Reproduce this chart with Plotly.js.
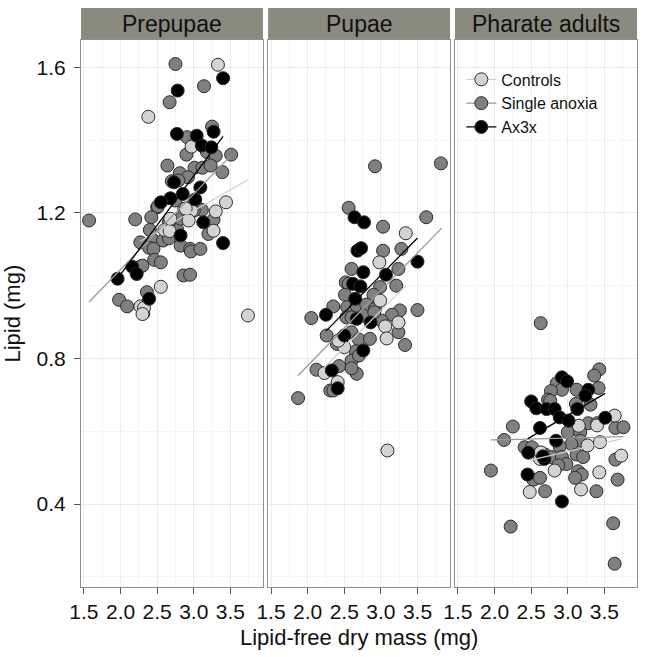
<!DOCTYPE html>
<html>
<head>
<meta charset="utf-8">
<script src="https://cdn.plot.ly/plotly-3.0.1.min.js"></script>
<style>html,body{margin:0;padding:0;background:#fff;}#chart{width:656px;height:657px;}</style>
</head>
<body>
<div id="chart"></div>
<script>
// ---- categories ----
const panelNames = ['Prepupae', 'Pupae', 'Pharate adults'];
const groupNames = ['Controls', 'Single anoxia', 'Ax3x'];

// ---- Prepupae ----
const prepupaeControlsX = [3.33, 2.38, 2.97, 2.87, 2.97, 3.30, 3.44, 2.93, 2.60, 2.67, 2.68, 3.27, 2.55, 2.27, 2.32, 2.30, 3.74, 2.89];
const prepupaeControlsY = [1.607, 1.464, 1.382, 1.211, 1.206, 1.204, 1.229, 1.179, 1.153, 1.150, 1.184, 1.151, 0.997, 0.943, 0.939, 0.922, 0.918, 1.212];
const prepupaeSingleX = [2.75, 3.14, 2.67, 3.25, 2.91, 3.18, 3.30, 2.90, 3.51, 2.64, 3.01, 3.12, 3.23, 3.39, 2.81, 2.92, 2.70, 2.79, 2.50, 2.51, 2.75, 2.96, 3.07, 3.11, 2.20, 1.57, 2.42, 2.40, 2.77, 2.66, 2.82, 3.00, 3.27, 3.20, 2.80, 2.27, 2.45, 2.58, 2.66, 2.39, 2.45, 2.82, 2.95, 2.96, 3.09, 2.46, 2.55, 2.27, 2.30, 2.86, 2.95, 2.36, 1.98, 2.09, 2.31];
const prepupaeSingleY = [1.609, 1.548, 1.504, 1.437, 1.408, 1.367, 1.357, 1.360, 1.360, 1.330, 1.324, 1.324, 1.330, 1.312, 1.309, 1.298, 1.287, 1.289, 1.215, 1.218, 1.234, 1.218, 1.211, 1.208, 1.182, 1.179, 1.188, 1.153, 1.156, 1.174, 1.184, 1.206, 1.181, 1.142, 1.135, 1.119, 1.124, 1.124, 1.130, 1.104, 1.101, 1.110, 1.101, 1.094, 1.101, 1.071, 1.064, 1.052, 1.055, 1.028, 1.030, 0.982, 0.961, 0.943, 0.924];
const prepupaeAx3xX = [3.40, 2.78, 2.77, 3.27, 3.04, 3.11, 3.24, 2.73, 2.85, 3.09, 2.68, 2.55, 3.02, 3.13, 2.82, 3.40, 2.16, 2.22, 1.96, 2.39];
const prepupaeAx3xY = [1.570, 1.536, 1.417, 1.423, 1.412, 1.385, 1.380, 1.284, 1.252, 1.270, 1.240, 1.229, 1.237, 1.174, 1.138, 1.117, 1.052, 1.032, 1.019, 0.964];

// ---- Pupae ----
const pupaeControlsX = [3.34, 2.98, 3.06, 3.24, 3.08, 2.50, 2.23, 2.41, 3.09, 2.99, 2.42];
const pupaeControlsY = [1.144, 1.064, 0.888, 0.899, 0.855, 0.831, 0.760, 0.735, 0.547, 0.959, 0.849];
const pupaeSingleX = [2.92, 3.82, 2.56, 3.03, 3.62, 3.03, 3.28, 2.60, 3.24, 2.52, 2.56, 2.99, 2.51, 2.90, 3.21, 2.35, 2.05, 3.50, 3.26, 3.15, 2.54, 2.67, 2.80, 2.92, 3.01, 2.53, 2.60, 2.76, 2.91, 2.26, 2.40, 2.60, 2.70, 2.85, 3.24, 3.33, 2.66, 2.60, 2.67, 2.12, 2.43, 2.60, 2.31, 2.35, 1.87, 2.70, 2.46];
const pupaeSingleY = [1.328, 1.336, 1.214, 1.162, 1.188, 1.096, 1.101, 1.046, 1.046, 1.009, 1.005, 0.996, 0.975, 0.975, 1.000, 0.943, 0.911, 0.933, 0.932, 0.920, 0.941, 0.945, 0.948, 0.936, 0.904, 0.913, 0.913, 0.918, 0.927, 0.863, 0.840, 0.872, 0.852, 0.854, 0.872, 0.837, 0.820, 0.794, 0.758, 0.769, 0.779, 0.773, 0.712, 0.712, 0.691, 0.808, 0.854];
const pupaeAx3xX = [2.64, 2.77, 2.68, 2.73, 3.50, 2.76, 3.07, 2.62, 2.72, 2.65, 2.25, 2.67, 2.86, 2.50, 2.76, 2.33, 2.41];
const pupaeAx3xY = [1.188, 1.174, 1.096, 1.103, 1.066, 1.037, 1.030, 1.005, 0.998, 0.964, 0.920, 0.909, 0.899, 0.863, 0.822, 0.767, 0.718];

// ---- Pharate adults ----
const pharateControlsX = [3.64, 3.15, 3.40, 3.27, 3.44, 2.62, 2.63, 3.73, 2.82, 3.43, 2.48, 3.18];
const pharateControlsY = [0.643, 0.615, 0.616, 0.561, 0.570, 0.524, 0.542, 0.533, 0.492, 0.487, 0.433, 0.440];
const pharateSingleX = [2.63, 3.43, 3.36, 2.85, 2.92, 2.77, 3.12, 3.42, 2.73, 3.11, 3.31, 3.28, 3.65, 3.76, 2.25, 3.00, 3.17, 2.13, 3.17, 3.05, 2.41, 2.51, 2.89, 2.69, 2.78, 3.12, 3.21, 3.65, 2.92, 2.98, 2.87, 1.95, 3.14, 3.19, 3.10, 3.68, 2.53, 2.62, 2.69, 3.39, 2.22, 3.62, 3.64, 2.76, 3.40];
const pharateSingleY = [0.897, 0.770, 0.753, 0.732, 0.714, 0.710, 0.714, 0.719, 0.687, 0.675, 0.673, 0.622, 0.609, 0.611, 0.613, 0.597, 0.597, 0.576, 0.574, 0.565, 0.556, 0.556, 0.558, 0.536, 0.529, 0.536, 0.529, 0.522, 0.529, 0.510, 0.506, 0.492, 0.490, 0.481, 0.472, 0.467, 0.467, 0.472, 0.435, 0.435, 0.338, 0.347, 0.236, 0.684, 0.622];
const pharateAx3xX = [2.92, 2.99, 3.28, 3.24, 2.50, 2.57, 2.71, 2.82, 3.13, 2.89, 3.01, 3.51, 2.62, 2.84, 2.46, 2.68, 2.45, 2.92, 2.66];
const pharateAx3xY = [0.748, 0.737, 0.714, 0.698, 0.682, 0.663, 0.661, 0.661, 0.661, 0.638, 0.629, 0.637, 0.609, 0.574, 0.541, 0.524, 0.481, 0.407, 0.531];

// ---- fitted line end points (per panel: Prepupae, Pupae, Pharate adults) ----
const fitControlsX = [[2.27, 3.74], [2.23, 3.34], [2.48, 3.73]];
const fitControlsY = [[1.122, 1.291], [0.776, 1.000], [0.520, 0.579]];
const fitSingleX = [[1.57, 3.50], [1.87, 3.83], [1.95, 3.76]];
const fitSingleY = [[0.955, 1.356], [0.753, 1.158], [0.576, 0.585]];
const fitAx3xX = [[1.96, 3.40], [2.25, 3.50], [2.45, 3.51]];
const fitAx3xY = [[1.020, 1.410], [0.875, 1.131], [0.579, 0.704]];

// ---- tick labels ----
const xTickVals = [1.5, 2.0, 2.5, 3.0, 3.5];
const xTickText = ['1.5', '2.0', '2.5', '3.0', '3.5'];
const yTickVals = [0.4, 0.8, 1.2, 1.6];
const yTickText = ['0.4', '0.8', '1.2', '1.6'];

// ---- styling ----
const FONT = '"Liberation Sans", Arial, Helvetica, sans-serif';
const fillColors = {'Controls': '#d3d3d3', 'Single anoxia': '#808080', 'Ax3x': '#000000'};
const lineColors = {'Controls': '#cfcfcf', 'Single anoxia': '#9a9a9a', 'Ax3x': '#000000'};
const outline = '#2b2b2b';
const MS = 13;

const pointSets = [
  {Controls: [prepupaeControlsX, prepupaeControlsY], 'Single anoxia': [prepupaeSingleX, prepupaeSingleY], Ax3x: [prepupaeAx3xX, prepupaeAx3xY]},
  {Controls: [pupaeControlsX, pupaeControlsY], 'Single anoxia': [pupaeSingleX, pupaeSingleY], Ax3x: [pupaeAx3xX, pupaeAx3xY]},
  {Controls: [pharateControlsX, pharateControlsY], 'Single anoxia': [pharateSingleX, pharateSingleY], Ax3x: [pharateAx3xX, pharateAx3xY]}
];
const fitSets = {
  'Controls': [fitControlsX, fitControlsY],
  'Single anoxia': [fitSingleX, fitSingleY],
  'Ax3x': [fitAx3xX, fitAx3xY]
};
const axX = ['x', 'x2', 'x3'];
const axY = ['y', 'y2', 'y3'];

const traces = [];
const drawOrder = ['Single anoxia', 'Controls', 'Ax3x'];
for (let p = 0; p < 3; p++) {
  drawOrder.forEach(g => {
    const [xs, ys] = pointSets[p][g];
    traces.push({
      type: 'scatter', mode: 'markers', x: xs, y: ys,
      xaxis: axX[p], yaxis: axY[p], showlegend: false, hoverinfo: 'skip',
      marker: {size: MS, color: fillColors[g], line: {color: outline, width: 1}}
    });
  });
}
for (let p = 0; p < 3; p++) {
  ['Controls', 'Single anoxia', 'Ax3x'].forEach(g => {
    const [fx, fy] = fitSets[g];
    traces.push({
      type: 'scatter', mode: 'lines', x: fx[p], y: fy[p],
      xaxis: axX[p], yaxis: axY[p], showlegend: false, hoverinfo: 'skip',
      line: {color: lineColors[g], width: 1.3}
    });
  });
}
// legend entries
groupNames.forEach(g => {
  traces.push({
    type: 'scatter', mode: 'lines+markers', x: [null], y: [null],
    xaxis: 'x3', yaxis: 'y3', name: g, showlegend: true,
    marker: {size: MS, color: fillColors[g], line: {color: outline, width: 1}},
    line: {color: lineColors[g], width: 1.3}
  });
});

const domains = [[0, 0.3273], [0.3365, 0.6638], [0.6727, 1]];
function xAxis(i) {
  return {
    domain: domains[i], anchor: axY[i], range: [1.46, 3.945], autorange: false,
    tickmode: 'array', tickvals: xTickVals, ticktext: xTickText,
    ticks: 'outside', ticklen: 6, tickwidth: 1, tickcolor: '#555',
    showline: true, mirror: true, linecolor: '#8f8f8f', linewidth: 1,
    showgrid: true, gridcolor: '#ebebeb', gridwidth: 1, zeroline: false,
    minor: {tickmode: 'array', tickvals: [1.75, 2.25, 2.75, 3.25, 3.75], showgrid: true, gridcolor: '#f5f5f5', gridwidth: 1},
    tickfont: {family: FONT, size: 21, color: '#111'}, fixedrange: true
  };
}
function yAxis(i) {
  const a = {
    domain: [0, 1], anchor: axX[i], range: [0.172, 1.675], autorange: false,
    tickmode: 'array', tickvals: yTickVals, ticktext: yTickText,
    showline: true, mirror: true, linecolor: '#8f8f8f', linewidth: 1,
    showgrid: true, gridcolor: '#ebebeb', gridwidth: 1, zeroline: false,
    minor: {tickmode: 'array', tickvals: [0.2, 0.6, 1.0, 1.4], showgrid: true, gridcolor: '#f5f5f5', gridwidth: 1},
    tickfont: {family: FONT, size: 21, color: '#111'}, fixedrange: true
  };
  if (i === 0) {
    a.ticks = 'outside'; a.ticklen = 6; a.tickwidth = 1; a.tickcolor = '#555';
    a.ticklabelstandoff = 4;
  } else {
    a.ticks = ''; a.showticklabels = false; a.matches = 'y';
  }
  return a;
}

const STRIP_TOP = 1.0585;
const shapes = [];
const annotations = [];
for (let i = 0; i < 3; i++) {
  shapes.push({
    type: 'rect', xref: axX[i] + ' domain', yref: 'paper',
    x0: 0, x1: 1, y0: 1.0, y1: STRIP_TOP,
    fillcolor: '#8a8a7f', line: {width: 0}, layer: 'below'
  });
  annotations.push({
    xref: axX[i] + ' domain', yref: 'paper', x: 0.5, y: (1 + STRIP_TOP) / 2,
    xanchor: 'center', yanchor: 'middle', showarrow: false,
    text: panelNames[i], font: {family: FONT, size: 23, color: '#111'}
  });
}
annotations.push({
  xref: 'paper', yref: 'paper', x: 0.5, y: -0.093, xanchor: 'center', yanchor: 'middle',
  showarrow: false, text: 'Lipid-free dry mass (mg)', font: {family: FONT, size: 22, color: '#111'}
});
annotations.push({
  xref: 'paper', yref: 'paper', x: -0.124, y: 0.5, xanchor: 'center', yanchor: 'middle',
  textangle: -90, showarrow: false, text: 'Lipid (mg)', font: {family: FONT, size: 22, color: '#111'}
});

const layout = {
  width: 656, height: 657,
  margin: {l: 81, r: 19, t: 40, b: 70, pad: 0},
  paper_bgcolor: '#ffffff', plot_bgcolor: '#ffffff',
  font: {family: FONT, color: '#111'},
  xaxis: xAxis(0), xaxis2: xAxis(1), xaxis3: xAxis(2),
  yaxis: yAxis(0), yaxis2: yAxis(1), yaxis3: yAxis(2),
  shapes: shapes, annotations: annotations,
  showlegend: true,
  legend: {
    x: 0.684, y: 0.959, xanchor: 'left', yanchor: 'top',
    bgcolor: 'rgba(0,0,0,0)', borderwidth: 0,
    font: {family: FONT, size: 16, color: '#111'},
    itemwidth: 30, tracegroupgap: 0
  }
};

Plotly.newPlot('chart', traces, layout, {staticPlot: true, displayModeBar: false});
</script>
</body>
</html>
